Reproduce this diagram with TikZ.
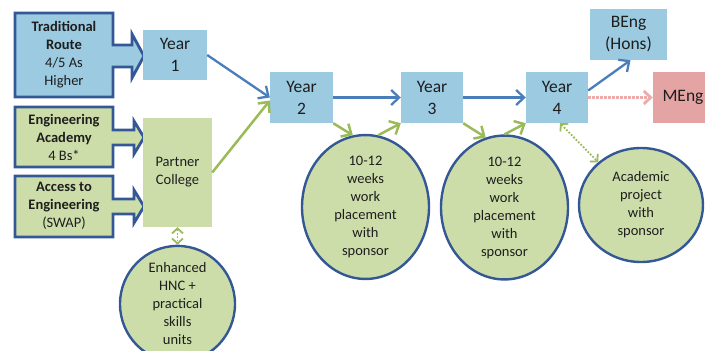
\documentclass[tikz,border=0pt]{standalone}
\usepackage{fontspec}
\setmainfont{Carlito}
\usetikzlibrary{arrows.meta,shapes.geometric}
\definecolor{boxblue}{RGB}{155,202,225}
\definecolor{boxgreen}{RGB}{205,221,170}
\definecolor{edgeblue}{RGB}{52,88,150}
\definecolor{arrblue}{RGB}{74,126,187}
\definecolor{arrgreen}{RGB}{155,187,89}
\definecolor{mengred}{RGB}{229,164,164}
\definecolor{dotpink}{RGB}{236,172,172}
\definecolor{txt}{RGB}{30,30,30}
\tikzset{
  yearbox/.style={rectangle, fill=boxblue, inner sep=0pt, align=center, text=txt,
    font=\fontsize{17.5}{22}\selectfont},
  greenbox/.style={rectangle, fill=boxgreen, inner sep=0pt, align=center, text=txt,
    font=\fontsize{14.5}{18}\selectfont},
  bubble/.style={ellipse, fill=boxgreen, draw=edgeblue, line width=2.4pt, inner sep=0pt,
    align=center, text=txt, font=\fontsize{14.5}{18}\selectfont},
  callout/.style={draw=edgeblue, line width=2.8pt, line join=miter},
  calltext/.style={align=center, inner sep=0pt, text=txt, font=\fontsize{14.5}{18}\selectfont},
  tip/.style={-{Straight Barb[length=8pt,width=15pt]}},
  bluearr/.style={tip, draw=arrblue, line width=2.3pt},
  greenarr/.style={tip, draw=arrgreen, line width=2.5pt},
  greendot/.style={{Straight Barb[length=5pt,width=11pt]}-{Straight Barb[length=5pt,width=11pt]},
    draw=arrgreen, line width=1.8pt, dash pattern=on 1.8pt off 1.6pt},
  pinkdot/.style={-{Straight Barb[length=7pt,width=13pt]}, draw=dotpink, line width=2.8pt,
    dash pattern=on 2.4pt off 1.6pt}
}
\begin{document}
\begin{tikzpicture}[x=1pt,y=-1pt]
\useasboundingbox (0,0) rectangle (705,351);
\clip (0,0) rectangle (705,351);

% callouts
\draw[callout, fill=boxblue] (15,13) -- (113,13) -- (113,45) -- (132,45) -- (132,34) -- (144,56)
  -- (132,78) -- (132,67) -- (113,67) -- (113,97) -- (15,97) -- cycle;
\node[calltext] (trad) at (64,55) {\textbf{Traditional}\\\textbf{Route}\\4/5 As\\Higher};

\draw[callout, fill=boxgreen] (15,107) -- (113,107) -- (113,130) -- (134,130) -- (134,121) -- (144,137.5)
  -- (134,154) -- (134,145) -- (113,145) -- (113,167) -- (15,167) -- cycle;
\node[calltext] (acad) at (64,137) {\textbf{Engineering}\\\textbf{Academy}\\4 Bs*};

\draw[callout, fill=boxgreen] (15,176) -- (113,176) -- (113,199) -- (134,199) -- (134,190) -- (144,206.5)
  -- (134,223) -- (134,214) -- (113,214) -- (113,237) -- (15,237) -- cycle;
\node[calltext] (access) at (64,206) {\textbf{Access to}\\\textbf{Engineering}\\(SWAP)};

% boxes
\node[yearbox, minimum width=64pt, minimum height=50pt] (y1) at (175,55) {Year\\1};
\node[yearbox, minimum width=63pt, minimum height=51pt] (y2) at (301.5,97.5) {Year\\2};
\node[yearbox, minimum width=62pt, minimum height=51pt] (y3) at (432,97.5) {Year\\3};
\node[yearbox, minimum width=62pt, minimum height=51pt] (y4) at (557,97.5) {Year\\4};
\node[yearbox, minimum width=77pt, minimum height=51pt] (beng) at (628.5,34.5) {BEng\\(Hons)};
\node[yearbox, fill=mengred, minimum width=60pt, minimum height=51pt] (meng) at (683,97.5) {MEng};
\node[greenbox, minimum width=69pt, minimum height=109pt] (pc) at (177.5,172.5) {Partner\\College};

% bubbles
\node[bubble, minimum width=127pt, minimum height=122pt] (c1) at (365.5,207) {10-12\\weeks\\work\\placement\\with\\sponsor};
\node[bubble, minimum width=127pt, minimum height=121pt] (c2) at (504.5,207.5) {10-12\\weeks\\work\\placement\\with\\sponsor};
\node[bubble, minimum width=124pt, minimum height=114pt] (c3) at (641,205) {Academic\\project\\with\\sponsor};
\node[bubble, minimum width=115pt, minimum height=92pt] (enh) at (177.5,304) {Enhanced\\HNC +\\practical\\skills\\units};

% connectors
\draw[bluearr] (y1.east) -- (y2.west);
\draw[greenarr] (pc.east) -- ([yshift=-3pt]y2.west);
\draw[bluearr] (y2.east) -- (y3.west);
\draw[bluearr] (y3.east) -- (y4.west);
\draw[bluearr] ([yshift=7pt]y4.east) -- ([xshift=2pt]beng.south);
\draw[pinkdot] (y4.east) -- (meng.west);
\draw[greenarr] (y2.south east) -- (c1.100);
\draw[greenarr] (c1.80) -- (y3.south west);
\draw[greenarr] (y3.south east) -- (c2.105);
\draw[greenarr] (c2.north) -- (y4.south west);
\draw[greendot] ([xshift=3pt]y4.south) -- (c3.135);
\draw[greendot] (pc.south) -- (enh.north);
\end{tikzpicture}
\end{document}
